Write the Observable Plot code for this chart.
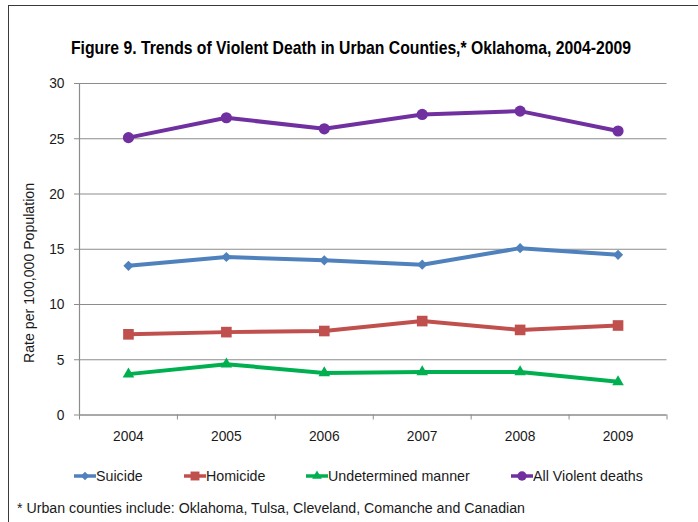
<!DOCTYPE html>
<html><head><meta charset="utf-8">
<script src="https://cdn.jsdelivr.net/npm/d3@7"></script>
<script src="https://cdn.jsdelivr.net/npm/@observablehq/plot@0.6"></script>
<style>
body{margin:0;background:#fff;font-family:"Liberation Sans",Arial,sans-serif;color:#1a1a1a}
#wrap{position:relative;width:698px;height:522px;overflow:hidden;}
#frame{position:absolute;left:8px;top:5px;width:800px;height:800px;border-left:1.5px solid #3a3a3a;border-top:1.5px solid #3a3a3a;}
.sx{display:inline-block;white-space:nowrap;transform-origin:0 50%;}
#title{position:absolute;top:38px;left:71px;font-weight:bold;font-size:18.5px;line-height:20px;color:#000;}
#chart{position:absolute;left:0;top:70px;}
#ylabel{position:absolute;left:29px;top:273px;white-space:nowrap;font-size:15px;line-height:16px}
#legend{position:absolute;top:467px;left:74px;display:flex;gap:41px;font-size:15px;line-height:17px;white-space:nowrap}
#legend .item{display:flex;align-items:center}
#legend svg{display:block}
#legend .lab{display:inline-block;overflow:visible}
#note{position:absolute;left:17px;top:499px;font-size:15.5px;line-height:18px;}
</style></head>
<body>
<div id="wrap">
  <div id="frame"></div>
  <span id="title" class="sx"></span>
  <div id="chart"></div>
  <div id="ylabel"></div>
  <div id="legend"></div>
  <span id="note" class="sx"></span>
</div>
<script>
const titleText = "Figure 9. Trends of Violent Death in Urban Counties,* Oklahoma, 2004-2009";
const yLabelText = "Rate per 100,000 Population";
const noteText = "* Urban counties include: Oklahoma, Tulsa, Cleveland, Comanche and Canadian";

const years = [2004, 2005, 2006, 2007, 2008, 2009];
const yTicks = [0, 5, 10, 15, 20, 25, 30];

const seriesNames = ["Suicide", "Homicide", "Undetermined manner", "All Violent deaths"];
const suicide = [13.5, 14.3, 14.0, 13.6, 15.1, 14.5];
const homicide = [7.3, 7.5, 7.6, 8.5, 7.7, 8.1];
const undetermined = [3.7, 4.6, 3.8, 3.9, 3.9, 3.0];
const allViolent = [25.1, 26.9, 25.9, 27.2, 27.5, 25.7];
const seriesValues = [suicide, homicide, undetermined, allViolent];

const colors = ["#4F81BD", "#C0504D", "#00B050", "#7030A0"];
const symbols = ["diamond2", "square", "triangle", "circle"];
const radii = [4.6, 6, 4.3, 5.6];

const rows = [];
seriesNames.forEach((s, i) => years.forEach((y, j) => rows.push({series: s, year: y, value: seriesValues[i][j]})));

const edges = [years[0] - 0.5, ...years.map(y => y + 0.5)];
const gray = "#8c8c8c";
const tickNarrow = 0.92;
const legendNarrow = 0.95;

function fitWidth(el, target) {
  const w = el.getBoundingClientRect().width;
  el.style.transform = `scaleX(${target / w})`;
}
const titleEl = document.getElementById("title");
titleEl.textContent = titleText;
fitWidth(titleEl, 560);
const noteEl = document.getElementById("note");
noteEl.textContent = noteText;
fitWidth(noteEl, 508);
const yl = document.getElementById("ylabel");
yl.textContent = yLabelText;
{
  const w = yl.getBoundingClientRect().width;
  yl.style.transform = `translate(-50%,-50%) rotate(-90deg) scaleX(${180 / w})`;
}

const marks = [
  Plot.gridY(yTicks, {stroke: gray, strokeOpacity: 1, strokeWidth: 1}),
  Plot.ruleY([0], {stroke: gray, strokeWidth: 1.2}),
  Plot.ruleX([edges[0]], {stroke: gray, strokeWidth: 1.2}),
  Plot.axisY(yTicks, {tickSize: 5, tickPadding: 10, stroke: gray, fill: "#1a1a1a", label: null, tickFormat: d => String(d)}),
  Plot.axisX(years, {tickSize: 0, tickPadding: 15, fill: "#1a1a1a", label: null, tickFormat: d => String(d)}),
  Plot.axisX(edges, {tickSize: 5, stroke: gray, label: null, tickFormat: () => ""})
];
seriesNames.forEach((s, i) => {
  const data = rows.filter(r => r.series === s);
  marks.push(Plot.line(data, {x: "year", y: "value", stroke: colors[i], strokeWidth: 4, strokeLinejoin: "round"}));
  marks.push(Plot.dot(data, {x: "year", y: "value", symbol: () => symbols[i], fill: colors[i], stroke: "none", r: radii[i]}));
});

const chart = Plot.plot({
  width: 698,
  height: 385,
  marginLeft: 79,
  marginRight: 31.5,
  marginTop: 13,
  marginBottom: 40.5,
  x: {type: "linear", domain: [edges[0], edges[edges.length - 1]]},
  y: {domain: [0, 30]},
  symbol: {type: "identity"},
  style: {fontSize: "15px", fontFamily: '"Liberation Sans",Arial,sans-serif', background: "transparent", overflow: "visible"},
  marks
});
// narrow the tick label glyphs around their anchor points (Arial Narrow look)
chart.querySelectorAll("g[aria-label$='tick label'] text").forEach(t => {
  const tr = t.getAttribute("transform") || "";
  t.setAttribute("transform", tr + ` scale(${tickNarrow},1)`);
});
document.getElementById("chart").appendChild(chart);

// Legend
const legend = document.getElementById("legend");
const symMap = {diamond2: d3.symbolDiamond2, square: d3.symbolSquare, triangle: d3.symbolTriangle, circle: d3.symbolCircle};
seriesNames.forEach((s, i) => {
  const item = document.createElement("div");
  item.className = "item";
  const sw = d3.create("svg").attr("width", 22).attr("height", 14);
  sw.append("line").attr("x1", 0).attr("x2", 22).attr("y1", 7).attr("y2", 7).attr("stroke", colors[i]).attr("stroke-width", 3.5);
  sw.append("path").attr("transform", "translate(11,7)").attr("fill", colors[i])
    .attr("d", d3.symbol(symMap[symbols[i]], Math.PI * radii[i] * radii[i] * 0.7)());
  item.appendChild(sw.node());
  const outer = document.createElement("span");
  outer.className = "lab";
  const inner = document.createElement("span");
  inner.className = "sx";
  inner.textContent = s;
  outer.appendChild(inner);
  item.appendChild(outer);
  legend.appendChild(item);
  const w = inner.getBoundingClientRect().width;
  inner.style.transform = `scaleX(${legendNarrow})`;
  outer.style.width = (w * legendNarrow) + "px";
});
</script>
</body></html>
